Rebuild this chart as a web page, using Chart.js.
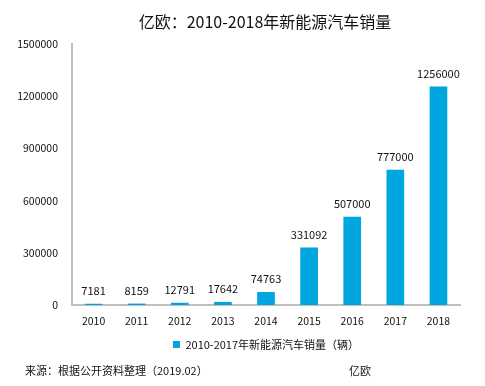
<!DOCTYPE html>
<html>
<head>
<meta charset="utf-8">
<script src="https://cdn.jsdelivr.net/npm/chart.js@4"></script>
<style>
html,body{margin:0;padding:0;background:#fff;}
#wrap{position:relative;width:485px;height:386px;overflow:hidden;font-family:"Noto Sans CJK SC","Noto Sans",sans-serif;}
#c{position:absolute;left:0;top:0;}
.t{position:absolute;white-space:nowrap;color:#111;}
#title{left:0;width:530px;text-align:center;top:9px;font-size:16px;}
#src{left:25px;top:362px;font-size:11px;}
#brand{left:349px;top:362px;font-size:11px;}
</style>
</head>
<body>
<div id="wrap">
<canvas id="c" width="485" height="386"></canvas>
<div class="t" id="title">亿欧：2010-2018年新能源汽车销量</div>
<div class="t" id="src">来源：根据公开资料整理（2019.02）</div>
<div class="t" id="brand">亿欧</div>
</div>
<script>
const years = ["2010","2011","2012","2013","2014","2015","2016","2017","2018"];
const sales = [7181, 8159, 12791, 17642, 74763, 331092, 507000, 777000, 1256000];
const seriesName = "2010-2017年新能源汽车销量（辆）";
const yTicks = [0, 300000, 600000, 900000, 1200000, 1500000];

const FONT = '"Noto Sans CJK SC","Noto Sans",sans-serif';

const barLabels = {
  id: 'barLabels',
  afterDatasetsDraw(chart) {
    const ctx = chart.ctx;
    const meta = chart.getDatasetMeta(0);
    ctx.save();
    ctx.font = '11px ' + FONT;
    ctx.fillStyle = '#111';
    ctx.textAlign = 'center';
    ctx.textBaseline = 'middle';
    meta.data.forEach((el, i) => {
      ctx.fillText(String(chart.data.datasets[0].data[i]), el.x, el.y - 13);
    });
    ctx.restore();
  }
};

new Chart(document.getElementById('c'), {
  type: 'bar',
  data: {
    labels: years,
    datasets: [{
      label: seriesName,
      data: sales,
      backgroundColor: '#00A6E0',
      borderWidth: 0,
      categoryPercentage: 1,
      barPercentage: 0.41
    }]
  },
  options: {
    responsive: false,
    animation: false,
    layout: { padding: { top: 44, right: 25, left: 0, bottom: 26 } },
    plugins: {
      title: { display: false },
      tooltip: { enabled: false },
      legend: {
        display: true,
        position: 'bottom',
        fullSize: false,
        labels: {
          boxWidth: 7, boxHeight: 7, padding: 6,
          color: '#111',
          font: { size: 11, family: FONT }
        }
      }
    },
    scales: {
      x: {
        grid: { display: false, drawTicks: false },
        border: { display: true, color: '#BFBFBF', width: 2 },
        ticks: { color: '#111', padding: 10, font: { size: 10.5, family: FONT } },
        afterFit(s) { s.height = 28; }
      },
      y: {
        min: 0, max: 1500000,
        afterBuildTicks(s) { s.ticks = yTicks.map(v => ({ value: v })); },
        grid: { display: false, drawTicks: false },
        border: { display: true, color: '#BFBFBF', width: 2 },
        ticks: { color: '#111', padding: 14, font: { size: 10.5, family: FONT },
          callback: (v) => String(v) },
        afterFit(s) { s.width = 72; }
      }
    }
  },
  plugins: [barLabels]
});
</script>
</body>
</html>
